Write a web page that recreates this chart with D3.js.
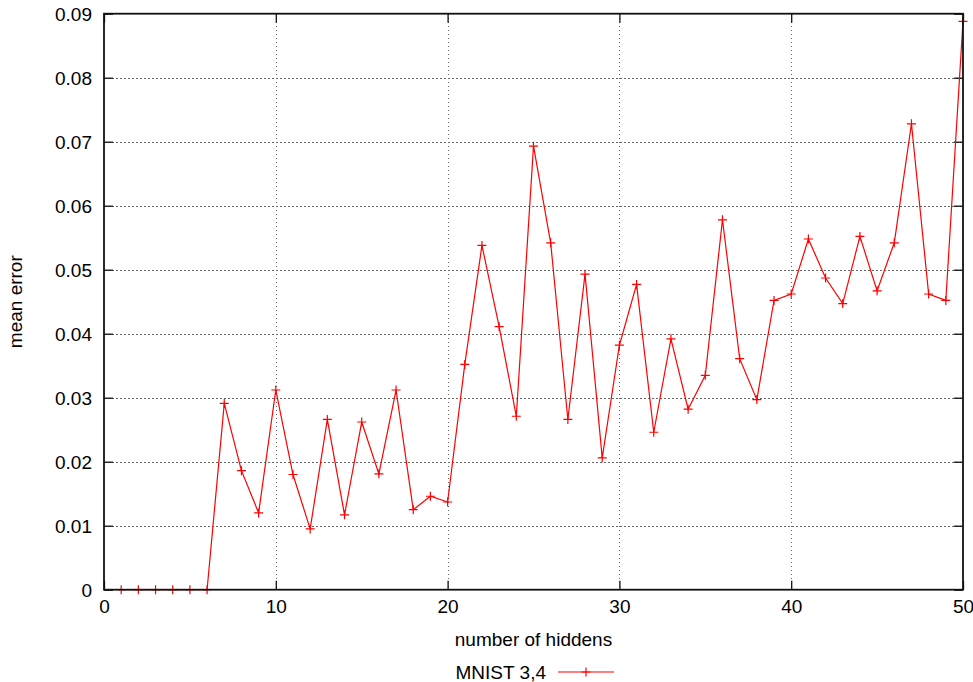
<!DOCTYPE html>
<html>
<head>
<meta charset="utf-8">
<script src="https://cdn.jsdelivr.net/npm/d3@7"></script>
<style>
  html, body { margin: 0; padding: 0; background: #fff; }
  svg { display: block; }
  text { font-family: "Liberation Sans", Arial, sans-serif; font-size: 19px; fill: #000; }
</style>
</head>
<body>
<svg id="chart" width="973" height="682"></svg>
<script>
// Mean error as a function of the number of hidden units (MNIST 3 vs 4)
const hiddens = d3.range(1, 51);
const meanError = [
  0, 0, 0, 0, 0, 0, 0.0291, 0.0186, 0.0120, 0.0312,
  0.0180, 0.0095, 0.0266, 0.0117, 0.0262, 0.0181, 0.0312, 0.0125, 0.0146, 0.0137,
  0.0352, 0.0538, 0.0411, 0.0271, 0.0693, 0.0542, 0.0266, 0.0493, 0.0206, 0.0382,
  0.0477, 0.0246, 0.0392, 0.0282, 0.0335, 0.0578, 0.0361, 0.0297, 0.0452, 0.0462,
  0.0548, 0.0487, 0.0447, 0.0552, 0.0467, 0.0542, 0.0728, 0.0462, 0.0452, 0.0888
];
const xTicks = [0, 10, 20, 30, 40, 50];
const yTicks = [0, 0.01, 0.02, 0.03, 0.04, 0.05, 0.06, 0.07, 0.08, 0.09];
const seriesName = "MNIST 3,4";
const xTitle = "number of hiddens";
const yTitle = "mean error";

const margin = { left: 104, right: 10, top: 13.7, bottom: 92.3 };
const W = 973, H = 682;
const svg = d3.select("#chart");
const iw = W - margin.left - margin.right;
const ih = H - margin.top - margin.bottom;

const x = d3.scaleLinear().domain([0, 50]).range([0, iw]);
const y = d3.scaleLinear().domain([0, 0.09]).range([ih, 0]);

const g = svg.append("g").attr("transform", `translate(${margin.left},${margin.top})`);

// dotted grid, interior lines only
const grid = g.append("g")
  .attr("stroke", "#666").attr("stroke-width", 1).attr("stroke-dasharray", "1.5,2.5")
  .attr("shape-rendering", "crispEdges");
grid.selectAll("line.v").data(xTicks.slice(1, -1)).join("line")
  .attr("x1", d => Math.round(x(d)) + 0.5).attr("x2", d => Math.round(x(d)) + 0.5)
  .attr("y1", 0).attr("y2", ih);
grid.selectAll("line.h").data(yTicks.slice(1, -1)).join("line")
  .attr("y1", d => Math.round(y(d)) + 0.5).attr("y2", d => Math.round(y(d)) + 0.5)
  .attr("x1", 0).attr("x2", iw);

// axes with inward ticks
const fmtY = d => d === 0 ? "0" : d3.format(".2f")(d);
const axL = g.append("g").call(d3.axisLeft(y).tickValues(yTicks).tickFormat(fmtY).tickSizeInner(-9).tickSizeOuter(0).tickPadding(12));
const axR = g.append("g").attr("transform", `translate(${iw},0)`).call(d3.axisRight(y).tickValues(yTicks).tickFormat("").tickSizeInner(-9).tickSizeOuter(0));
const axB = g.append("g").attr("transform", `translate(0,${ih})`).call(d3.axisBottom(x).tickValues(xTicks).tickFormat(d3.format("d")).tickSizeInner(-9).tickSizeOuter(0).tickPadding(10));
const axT = g.append("g").call(d3.axisTop(x).tickValues(xTicks).tickFormat("").tickSizeInner(-9).tickSizeOuter(0));
[axL, axR, axB, axT].forEach(a => {
  a.select(".domain").remove();
  a.selectAll(".tick line").attr("stroke", "#111").attr("stroke-width", 1.3);
  a.selectAll("text").attr("font-family", null).attr("font-size", null).attr("fill", "#000");
});
axL.selectAll("text").attr("dy", "0.34em");
axB.selectAll("text").attr("dy", "0.72em");

// series line and "+" markers
const pts = hiddens.map((h, i) => [h, meanError[i]]);
const line = d3.line().x(d => x(d[0])).y(d => y(d[1]));
g.append("path").datum(pts)
  .attr("fill", "none").attr("stroke", "#ff0000").attr("stroke-width", 1.2)
  .attr("d", line);
const plus = (cx, cy, s) => `M${cx - s},${cy}H${cx + s}M${cx},${cy - s}V${cy + s}`;
g.append("path")
  .attr("fill", "none").attr("stroke", "#ff0000").attr("stroke-width", 1.2)
  .attr("d", pts.map(d => plus(x(d[0]), y(d[1]), 4.5)).join(""));

// frame
g.append("rect").attr("x", 0).attr("y", 0).attr("width", iw).attr("height", ih)
  .attr("fill", "none").attr("stroke", "#111").attr("stroke-width", 1.8);

// axis titles
svg.append("text").attr("x", margin.left + iw / 2).attr("y", 646)
  .attr("text-anchor", "middle").text(xTitle);
svg.append("text")
  .attr("transform", `translate(22,${margin.top + ih / 2}) rotate(-90)`)
  .attr("text-anchor", "middle").text(yTitle);

// legend
const lg = svg.append("g");
lg.append("text").attr("x", 546).attr("y", 679).attr("text-anchor", "end").text(seriesName);
lg.append("line").attr("x1", 558).attr("x2", 614).attr("y1", 672).attr("y2", 672)
  .attr("stroke", "#ff0000").attr("stroke-width", 1.2);
lg.append("path").attr("fill", "none").attr("stroke", "#ff0000").attr("stroke-width", 1.2)
  .attr("d", plus(586, 672, 4.5));
</script>
</body>
</html>
